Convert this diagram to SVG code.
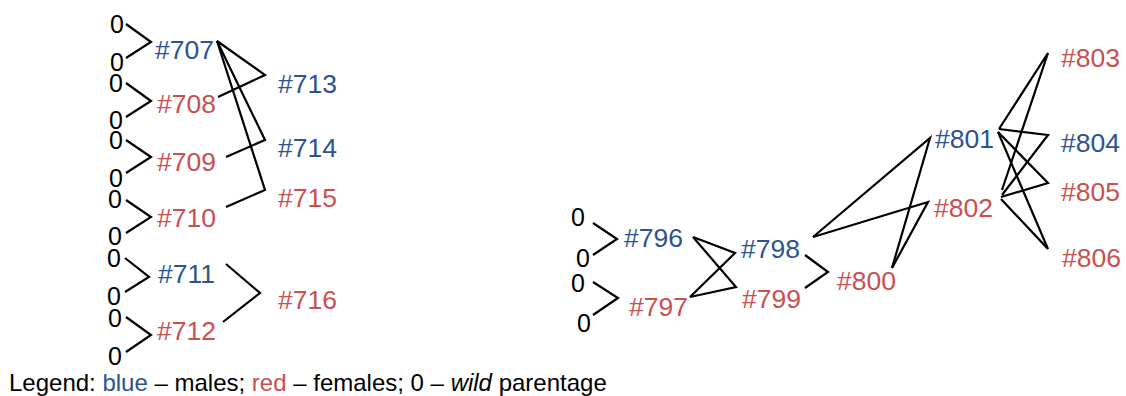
<svg xmlns="http://www.w3.org/2000/svg" width="1126" height="396" viewBox="0 0 1126 396">
<style>
text{font-family:"Liberation Sans",Arial,sans-serif}
.n{font-size:26.5px}
.z{font-size:25px;fill:#000}
.m{fill:#2c5390}
.f{fill:#c8504f}
.c polyline{fill:none;stroke:#000;stroke-width:2.2;stroke-linejoin:miter}
.lg{font-size:24px;fill:#000}
</style>
<rect width="1126" height="396" fill="#fff"/>
<g class="c" id="connectors">
<polyline points="126,24 151,42 126,58"/>
<polyline points="126,83 151,101 126,117"/>
<polyline points="126,140 151,157 126,173"/>
<polyline points="126,200 151,217 126,233"/>
<polyline points="125,258 149,277 125,292"/>
<polyline points="126,317 151,335 126,352"/>
<polyline points="217,41 265,75 218,97"/>
<polyline points="217,41 265,140 226,157"/>
<polyline points="217,41 265,190 226,207"/>
<polyline points="226,264 260,293 223,322"/>
<polyline points="593,223 617,239 593,255"/>
<polyline points="593,282 618,298 593,315"/>
<polyline points="693,237 735,253 690,297"/>
<polyline points="693,237 736,287 690,297"/>
<polyline points="805,255 828,272 805,288"/>
<polyline points="813,237 930,138 892,268"/>
<polyline points="813,237 928,202 892,268"/>
<polyline points="999,129 1048,53 1002,190"/>
<polyline points="999,129 1048,135 1002,195"/>
<polyline points="998,132 1048,183 1001,197"/>
<polyline points="998,132 1048,249 1001,199"/>
</g>
<g id="wild">
<text class="z" x="110" y="33">0</text>
<text class="z" x="110" y="71">0</text>
<text class="z" x="109" y="92">0</text>
<text class="z" x="109" y="129">0</text>
<text class="z" x="109" y="149">0</text>
<text class="z" x="109" y="187">0</text>
<text class="z" x="108" y="208">0</text>
<text class="z" x="108" y="245">0</text>
<text class="z" x="107" y="267">0</text>
<text class="z" x="107" y="305">0</text>
<text class="z" x="108" y="327">0</text>
<text class="z" x="108" y="365">0</text>
<text class="z" x="571" y="226">0</text>
<text class="z" x="576" y="267">0</text>
<text class="z" x="571" y="292">0</text>
<text class="z" x="577" y="332">0</text>
</g>
<g id="n707"><text class="n m" x="155" y="59">#707</text></g>
<g id="n708"><text class="n f" x="157" y="113">#708</text></g>
<g id="n709"><text class="n f" x="157" y="171">#709</text></g>
<g id="n710"><text class="n f" x="157" y="227">#710</text></g>
<g id="n711"><text class="n m" x="158" y="283">#711</text></g>
<g id="n712"><text class="n f" x="157" y="340">#712</text></g>
<g id="n713"><text class="n m" x="278" y="93">#713</text></g>
<g id="n714"><text class="n m" x="278" y="157">#714</text></g>
<g id="n715"><text class="n f" x="278" y="207">#715</text></g>
<g id="n716"><text class="n f" x="278" y="309">#716</text></g>
<g id="n796"><text class="n m" x="624" y="247">#796</text></g>
<g id="n797"><text class="n f" x="629" y="316">#797</text></g>
<g id="n798"><text class="n m" x="741" y="258">#798</text></g>
<g id="n799"><text class="n f" x="742" y="308">#799</text></g>
<g id="n800"><text class="n f" x="837" y="290">#800</text></g>
<g id="n801"><text class="n m" x="935" y="148">#801</text></g>
<g id="n802"><text class="n f" x="934" y="217">#802</text></g>
<g id="n803"><text class="n f" x="1061" y="67">#803</text></g>
<g id="n804"><text class="n m" x="1061" y="152">#804</text></g>
<g id="n805"><text class="n f" x="1061" y="201">#805</text></g>
<g id="n806"><text class="n f" x="1062" y="267">#806</text></g>
<g id="legend"><text class="lg" x="9" y="391">Legend: <tspan class="m">blue</tspan> – males; <tspan class="f">red</tspan> – females; 0 – <tspan font-style="italic">wild</tspan> parentage</text></g>
</svg>
